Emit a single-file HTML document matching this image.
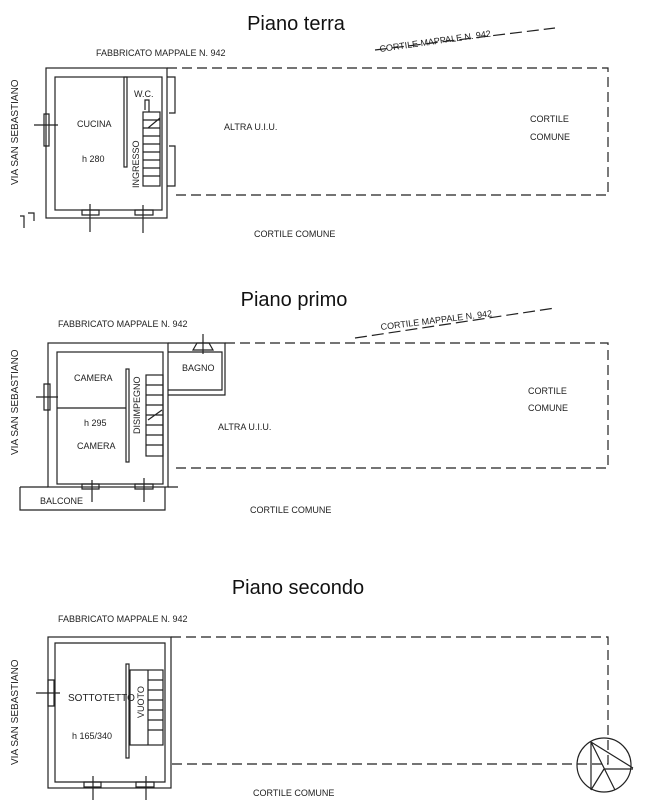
<!DOCTYPE html>
<html><head><meta charset="utf-8"><style>
html,body{margin:0;padding:0;background:#fff;}
svg{display:block;font-family:"Liberation Sans",Arial,sans-serif;}
</style></head><body>
<svg width="662" height="800" viewBox="0 0 662 800" xmlns="http://www.w3.org/2000/svg">
<g fill="#111" text-anchor="middle">
<text x="296" y="30" font-size="20">Piano terra</text>
<text x="294" y="306" font-size="20">Piano primo</text>
<text x="298" y="594" font-size="20">Piano secondo</text>
</g>
<g fill="#222" font-size="9">
<text x="96" y="56">FABBRICATO MAPPALE N. 942</text>
<text x="380" y="52" transform="rotate(-8 380 52)">CORTILE MAPPALE N. 942</text>
<text x="18" y="185" transform="rotate(-90 18 185)" font-size="10">VIA SAN SEBASTIANO</text>
<text x="77" y="127">CUCINA</text>
<text x="82" y="162">h 280</text>
<text x="134" y="97">W.C.</text>
<text x="139" y="188" transform="rotate(-90 139 188)">INGRESSO</text>
<text x="224" y="130">ALTRA U.I.U.</text>
<text x="530" y="122">CORTILE</text>
<text x="530" y="140">COMUNE</text>
<text x="254" y="237">CORTILE COMUNE</text>
<text x="58" y="327">FABBRICATO MAPPALE N. 942</text>
<text x="381" y="330" transform="rotate(-7 381 330)">CORTILE MAPPALE N. 942</text>
<text x="18" y="455" transform="rotate(-90 18 455)" font-size="10">VIA SAN SEBASTIANO</text>
<text x="74" y="381">CAMERA</text>
<text x="84" y="426">h 295</text>
<text x="77" y="449">CAMERA</text>
<text x="182" y="371">BAGNO</text>
<text x="140" y="434" transform="rotate(-90 140 434)">DISIMPEGNO</text>
<text x="218" y="430">ALTRA U.I.U.</text>
<text x="528" y="394">CORTILE</text>
<text x="528" y="411">COMUNE</text>
<text x="40" y="504">BALCONE</text>
<text x="250" y="513">CORTILE COMUNE</text>
<text x="58" y="622">FABBRICATO MAPPALE N. 942</text>
<text x="18" y="765" transform="rotate(-90 18 765)" font-size="10">VIA SAN SEBASTIANO</text>
<text x="68" y="701" font-size="10">SOTTOTETTO</text>
<text x="72" y="739">h 165/340</text>
<text x="144" y="718" transform="rotate(-90 144 718)">VUOTO</text>
<text x="253" y="796">CORTILE COMUNE</text>
</g>
<g fill="none" stroke="#222" stroke-width="1.2">
<rect x="46" y="68" width="121" height="150"/>
<rect x="55" y="77" width="107" height="133"/>
<rect x="124" y="77" width="3" height="90"/>
<rect x="143" y="112" width="17" height="74"/>
<path d="M143 120h17M143 128h17M143 136h17M143 144h17M143 152h17M143 160h17M143 168h17M143 176h17M145 110v-10h4v12M148 128l12-10"/>
<path d="M167 77h8v36h-6M167 186h8v-40h-6"/>
<path d="M44 114h5v32h-5zM34 125h24M82 210h17v5h-17zM90 204v28M135 210h18v5h-18zM143 205v28"/>
<path d="M20 216h4v12M28 213h6v8" />
<path d="M167 68H608V195H172" stroke-dasharray="10,5"/>
<path d="M375 50L555 28" stroke-dasharray="12,5"/>
<rect x="48" y="343" width="120" height="144"/>
<rect x="57" y="352" width="106" height="132"/>
<path d="M57 408h69"/>
<rect x="126" y="369" width="3" height="93"/>
<rect x="146" y="375" width="17" height="81"/>
<path d="M146 385h17M146 395h17M146 405h17M146 415h17M146 425h17M146 435h17M146 445h17M148 420l14-10"/>
<path d="M168 352h54v38h-54M168 343h57v52h-57"/>
<path d="M193 350l4-7h12l4 7zM203 334v20"/>
<path d="M20 487h28M20 487v23h145v-23M168 487h10"/>
<path d="M44 384h6v26h-6zM36 397h22M82 484h17v5h-17zM92 480v22M135 484h18v5h-18zM144 478v24"/>
<path d="M225 343H608V468H172" stroke-dasharray="10,5"/>
<path d="M355 338L555 308" stroke-dasharray="12,5"/>
<rect x="48" y="637" width="123" height="151"/>
<path d="M55 643h110v139H55z"/>
<rect x="126" y="664" width="3" height="94"/>
<rect x="130" y="670" width="33" height="75"/>
<path d="M148 670v75M148 680h15M148 690h15M148 700h15M148 710h15M148 720h15M148 730h15"/>
<path d="M48 680h6v26h-6zM36 693h24M84 782h17v5h-17zM93 776v24M136 782h18v5h-18zM146 776v24"/>
<path d="M171 637H608V764H171" stroke-dasharray="10,5"/>
<circle cx="604" cy="765" r="27"/>
<path d="M591 742v48M591 742l42 26M591 742l24 48M604 769h29M604 769l-13 21"/>
</g>
</svg>
</body></html>
